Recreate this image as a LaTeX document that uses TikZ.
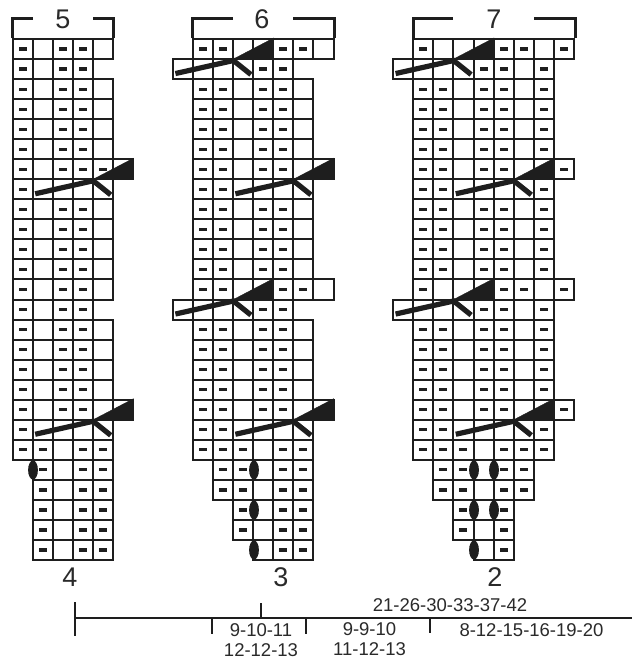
\documentclass[tikz,border=0pt]{standalone}
\usepackage{fontspec}
\setmainfont{Liberation Sans}
\definecolor{ink}{HTML}{1E1E1E}
\definecolor{txt}{HTML}{2A2A2A}
\tikzset{
  grid line/.style={draw=ink,line width=2pt},
  purl/.style={fill=ink,draw=none},
  crossbar/.style={draw=ink,line width=5.2pt,line join=miter,line cap=butt},
  wedge/.style={fill=ink,draw=ink,line width=.4pt},
  bobble/.style={fill=ink,draw=none},
  bracket/.style={draw=ink,line width=3pt,line cap=butt,line join=miter},
  axis/.style={draw=ink,line width=2pt},
  chartnum/.style={font=\fontsize{27}{27}\selectfont,text=txt,inner sep=0pt},
  sizes/.style={font=\fontsize{18.5}{20}\selectfont,text=txt,inner sep=0pt,align=center}
}
\newcommand{\knitcw}{20.1}
\newcommand{\knitrh}{20.04}
\newcommand{\cellb}[2]{\draw[grid line] (#1,#2) rectangle ++(\knitcw,\knitrh);}
\newcommand{\celld}[2]{\draw[grid line] (#1,#2) rectangle ++(\knitcw,\knitrh);
  \fill[purl] ({#1+\knitcw/2-4},{#2+\knitrh/2-1.6}) rectangle ++(8,3.2);}
\newcommand{\celln}[2]{\draw[grid line] (#1,#2) -- ++(\knitcw,0) (#1,{#2+\knitrh}) -- ++(\knitcw,0);}
% #1 x origin, #2 row, #3 first column, #4 cells
\newcommand{\knitrow}[4]{%
  \pgfmathsetmacro\rowy{39+#2*\knitrh}%
  \foreach \s [count=\i from #3] in {#4}{%
    \pgfmathsetmacro\colx{#1+\i*\knitcw}%
    \csname cell\s\endcsname{\colx}{\rowy}%
  }%
}
% #1 x of elbow, #2 row that carries the wedge
\newcommand{\crossst}[2]{%
  \pgfmathsetmacro\elby{39+(#2+1)*\knitrh}%
  \fill[wedge] (#1,\elby) -- ++(40.2,-21) -- ++(0,21) -- cycle;
  \draw[crossbar] ({#1-58},{\elby+14.5}) -- (#1,\elby+1.5) -- ({#1+17.5},{\elby+15.5});
}
\newcommand{\bob}[2]{\fill[bobble] (#1,#2) ellipse [x radius=4.9,y radius=9.6];}
\begin{document}
\begin{tikzpicture}[x=1pt,y=-1pt]
\useasboundingbox[fill=white] (0,0) rectangle (632,664);
% ---- chart 5
\foreach \r in {0,2,3,4,5,8,9,10,11,12,14,15,16,17}{\knitrow{12.8}{\r}{0}{d,b,d,d,b}}
\foreach \r in {7,19}{\knitrow{12.8}{\r}{0}{d,b,b,b,b}}
\foreach \r in {1,13}{\knitrow{12.8}{\r}{0}{d,b,d,d,n}}
\knitrow{12.8}{6}{0}{d,b,d,d,d,b}
\knitrow{12.8}{18}{0}{d,b,d,d,b,b}
\knitrow{12.8}{20}{0}{d,d,b,d,d}
\foreach \r in {21,22,23,24,25}{\knitrow{12.8}{\r}{1}{d,b,d,d}}
\crossst{93.2}{6}
\crossst{93.2}{18}
\bob{33}{470}
% ---- chart 6
\foreach \r in {0,12}{\knitrow{192.8}{\r}{0}{d,d,b,b,d,d,b}}
\foreach \r in {1,13}{\knitrow{192.8}{\r}{-1}{b,b,b,b,d,d,n}}
\foreach \r in {2,3,4,5,8,9,10,11,14,15,16,17}{\knitrow{192.8}{\r}{0}{d,d,b,d,d,b}}
\foreach \r in {6,18}{\knitrow{192.8}{\r}{0}{d,d,b,d,d,b,b}}
\foreach \r in {7,19}{\knitrow{192.8}{\r}{0}{d,d,b,b,b,b}}
\knitrow{192.8}{20}{0}{d,d,d,b,d,d}
\foreach \r in {21,22}{\knitrow{192.8}{\r}{1}{d,d,b,d,d}}
\foreach \r in {23,24}{\knitrow{192.8}{\r}{2}{d,b,d,d}}
\knitrow{192.8}{25}{3}{b,d,d}
\crossst{233.4}{0}
\crossst{233.4}{12}
\crossst{293.4}{6}
\crossst{293.4}{18}
\bob{254}{470}
\bob{254}{510}
\bob{254}{550}
% ---- chart 7
\foreach \r in {0,12}{\knitrow{413.2}{\r}{0}{d,b,b,b,d,d,b,d}}
\foreach \r in {1,13}{\knitrow{413.2}{\r}{-1}{b,b,b,b,d,d,b,d}}
\foreach \r in {2,3,4,5,8,9,10,11,14,15,16,17}{\knitrow{413.2}{\r}{0}{d,d,b,d,d,b,d}}
\foreach \r in {6,18}{\knitrow{413.2}{\r}{0}{d,d,b,d,d,b,b,d}}
\foreach \r in {7,19}{\knitrow{413.2}{\r}{0}{d,d,b,b,b,b,d}}
\knitrow{413.2}{20}{0}{d,d,d,b,d,d,d}
\foreach \r in {21,22}{\knitrow{413.2}{\r}{1}{d,d,b,d,d}}
\foreach \r in {23,24}{\knitrow{413.2}{\r}{2}{d,b,d}}
\knitrow{413.2}{25}{3}{b,d}
\crossst{453.6}{0}
\crossst{453.6}{12}
\crossst{513.8}{6}
\crossst{513.8}{18}
\bob{474}{470}
\bob{494}{470}
\bob{474}{510}
\bob{494}{510}
\bob{474}{550}
% ---- brackets and numbers
\draw[bracket] (12.8,38) -- (12.8,18) -- (33,18) (93,18) -- (113.3,18) -- (113.3,38);
\draw[bracket] (192.8,38) -- (192.8,18) -- (233,18) (293,18) -- (334,18) -- (334,38);
\draw[bracket] (413.2,38) -- (413.2,18) -- (453,18) (534,18) -- (575,18) -- (575,38);
\node[chartnum] (n5) at (63,19) {5};
\node[chartnum] (n6) at (262,19) {6};
\node[chartnum] (n7) at (494,19) {7};
\node[chartnum] (n4) at (70,577) {4};
\node[chartnum] (n3) at (281,577) {3};
\node[chartnum] (n2) at (495,577) {2};
% ---- measure line
\coordinate (la) at (75,618);
\coordinate (lb) at (632,618);
\draw[axis] (la) -- (lb);
\draw[axis] (75,602) -- (75,636);
\draw[axis] (260.5,603) -- (260.5,618);
\draw[axis] (212,618) -- (212,634);
\draw[axis] (305.5,618) -- (305.5,634);
\draw[axis] (430,618) -- (430,633);
\node[sizes] (s1) at (450,605.5) {21-26-30-33-37-42};
\node[sizes] (s2) at (261,640) {9-10-11\\12-12-13};
\node[sizes] (s3) at (369.5,639) {9-9-10\\11-12-13};
\node[sizes] (s4) at (531.5,630.5) {8-12-15-16-19-20};
\end{tikzpicture}
\end{document}
